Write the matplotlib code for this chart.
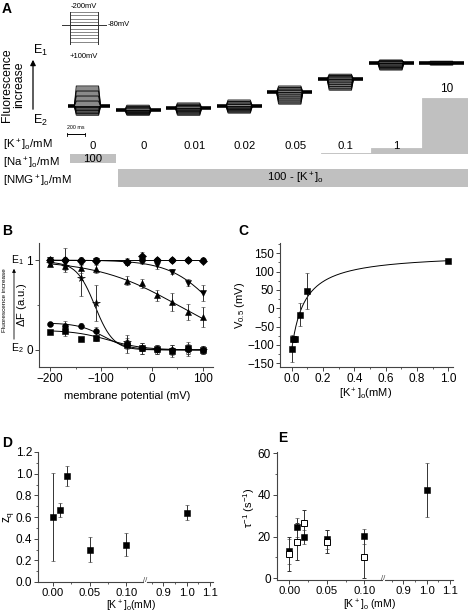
import numpy as np
import matplotlib
matplotlib.use('Agg')
import matplotlib.pyplot as plt
from matplotlib.ticker import MultipleLocator, FixedLocator

plt.rcParams['font.family'] = ['Liberation Sans', 'DejaVu Sans']
plt.rcParams['mathtext.fontset'] = 'custom'
plt.rcParams['mathtext.rm'] = 'Liberation Sans'
plt.rcParams['mathtext.it'] = 'Liberation Sans:italic'
plt.rcParams['mathtext.default'] = 'regular'

# ---------------- data ----------------
# Panel A
K_labels = ['0', '0', '0.01', '0.02', '0.05', '0.1', '1', '10']
K_values = [0, 0, 0.01, 0.02, 0.05, 0.1, 1, 10]
Na_values = [100, 0, 0, 0, 0, 0, 0, 0]
step_mV = [-200, -170, -140, -110, -80, -50, -20, 10, 40, 70, 100]
hold_mV = -80
# normalized fluorescence of the traces (0 = E2, 1 = E1)
trace_base = [0.177, 0.113, 0.145, 0.177, 0.40, 0.61, 0.876, 0.876]
trace_hi = [0.50, 0.19, 0.226, 0.274, 0.50, 0.69, 0.92, 0.90]   # at -200 mV
trace_lo = [0.03, 0.03, 0.03, 0.065, 0.21, 0.435, 0.76, 0.84]   # at +100 mV

# Panel B
V_B = [-200, -170, -140, -110, -50, -20, 10, 40, 70, 100]
B_diam = [1.0, 1.0, 0.99, 0.99, 0.98, 1.04, 1.0, 1.0, 1.0, 0.99]
B_diam_err = [0.02, 0.03, 0.03, 0.02, 0.04, 0.05, 0.02, 0.02, 0.02, 0.02]
B_circ_top = [1.0, 1.0, 1.0, 1.0, 0.98, 1.0, 1.0, 1.0, 1.0, 1.0]
B_circ_top_err = [0.03, 0.13, 0.03, 0.03, 0.03, 0.03, 0.02, 0.02, 0.02, 0.02]
B_down = [1.0, 0.98, 0.98, 0.99, 0.97, 0.985, 0.94, 0.87, 0.75, 0.63]
B_down_err = [0.02, 0.03, 0.03, 0.03, 0.03, 0.03, 0.04, 0.03, 0.04, 0.09]
B_up = [0.96, 0.93, 0.91, 0.90, 0.77, 0.74, 0.61, 0.535, 0.42, 0.37]
B_up_err = [0.02, 0.03, 0.05, 0.04, 0.05, 0.05, 0.06, 0.10, 0.09, 0.11]
B_star = [0.97, 0.93, 0.80, 0.52, 0.09, 0.02, 0.0, 0.0, 0.0, 0.0]
B_star_err = [0.02, 0.04, 0.20, 0.20, 0.08, 0.06, 0.05, 0.06, 0.07, 0.04]
B_circ_low = [0.29, 0.27, 0.27, 0.21, 0.07, 0.02, 0.01, 0.0, 0.01, 0.0]
B_circ_low_err = [0.02, 0.05, 0.03, 0.04, 0.04, 0.06, 0.05, 0.05, 0.05, 0.04]
B_sq_low = [0.20, 0.21, 0.12, 0.13, 0.05, 0.02, 0.01, -0.01, 0.02, 0.0]
B_sq_low_err = [0.02, 0.05, 0.01, 0.03, 0.08, 0.06, 0.05, 0.07, 0.07, 0.04]
# Boltzmann fits: (amplitude, V0.5, slope)
fit_star = (0.98, -112, 18)
fit_up = (1.0, 50, 80)
fit_down = (1.0, 123, 44)
fit_circ_low = (0.30, -95, 25)
fit_sq_low = (0.22, -85, 35)

# Panel C
K_C = [0.0, 0.01, 0.02, 0.05, 0.1, 1.0]
V05 = [-110, -83, -83, -17, 46, 128]
V05_err = [36, 8, 8, 31, 49, 3]
fit_C = (-112, 262, 0.0835)   # Vmin, amplitude, Kd

# Panel D
K_D = [0.0, 0.01, 0.02, 0.05, 0.1, 1.0]
zq = [0.60, 0.665, 0.98, 0.30, 0.345, 0.64]
zq_err = [0.41, 0.065, 0.09, 0.115, 0.105, 0.07]

# Panel E
K_E = [0.0, 0.01, 0.02, 0.05, 0.1, 1.0]
tau_f = [13.1, 24.5, 19.8, 18.7, 20.2, 42.5]
tau_f_err = [6.0, 4.5, 3.5, 4.5, 3.5, 13.0]
K_E_open = [0.0, 0.01, 0.02, 0.05, 0.1]
tau_o = [11.7, 17.6, 26.5, 17.6, 10.0]
tau_o_err = [8.0, 9.0, 6.5, 5.5, 10.0]

# ---------------- figure ----------------
W, H = 468, 613
fig = plt.figure(figsize=(W / 100, H / 100), dpi=100)
GRAY = '#c0c0c0'
AX = '#444444'
TICK_FS = 8.5
LAB_FS = 8.0


def rect(x0, y0, x1, y1):
    return [x0 / W, 1 - y1 / H, (x1 - x0) / W, (y1 - y0) / H]


ov = fig.add_axes([0, 0, 1, 1])
ov.set_xlim(0, W)
ov.set_ylim(H, 0)
ov.axis('off')

# panel letters
for lab, (x, y) in {'A': (2, 9), 'B': (2, 231), 'C': (238, 231), 'D': (2, 443), 'E': (278, 438)}.items():
    ov.text(x, y, lab, fontsize=10, fontweight='bold', ha='left', va='center')

# ---- Panel A ----
# protocol inset
axP = fig.add_axes(rect(62, 12, 107, 45))
axP.set_xlim(0, 45)
axP.set_ylim(100, -200)
axP.axis('off')
for v in step_mV:
    axP.plot([8, 36], [v, v], color='#555555', lw=0.5)
axP.plot([8, 8], [min(step_mV), max(step_mV)], color='#333333', lw=0.7)
axP.plot([36, 36], [min(step_mV), max(step_mV)], color='#333333', lw=0.7)
axP.plot([0, 45], [hold_mV, hold_mV], color='#333333', lw=0.7)
ov.text(84, 6, '-200mV', fontsize=5.5, ha='center', va='center')
ov.text(108, 25, '-80mV', fontsize=5.5, ha='left', va='center')
ov.text(84, 56, '+100mV', fontsize=5.5, ha='center', va='center')

# fluorescence arrow
ov.text(13, 85, 'Fluorescence\nincrease', rotation=90, fontsize=8.8, ha='center', va='center',
        linespacing=1.0)
ov.annotate('', xy=(33, 57), xytext=(33, 112),
            arrowprops=dict(arrowstyle='-|>', color='k', lw=0.9, mutation_scale=8))
ov.text(33, 50, 'E$_1$', fontsize=9, ha='left', va='center')
ov.text(33, 120, 'E$_2$', fontsize=9, ha='left', va='center')

# traces
axT = fig.add_axes(rect(67.7, 50, 472.3, 125))
axT.set_xlim(-0.5, 7.5)
axT.set_ylim(-0.129, 1.081)
axT.axis('off')
for i in range(8):
    b, hi, lo = trace_base[i], trace_hi[i], trace_lo[i]
    px = i + np.array([-0.37, -0.33, 0.11, 0.15])
    axT.fill_between(px, [b, max(hi, b), max(hi, b), b], [b, min(lo, b), min(lo, b), b],
                     color='#8a8a8a', lw=0)
    for v in step_mV:
        if v <= hold_mV:
            lvl = b + (hi - b) * (hold_mV - v) / (hold_mV - min(step_mV))
        else:
            lvl = b + (lo - b) * (v - hold_mV) / (max(step_mV) - hold_mV)
        axT.plot(px, [b, lvl, lvl, b], color='k', lw=0.7, alpha=0.9)
    axT.plot(i + np.array([-0.55, -0.35]), [b, b], color='k', lw=2.6, solid_capstyle='butt')
    axT.plot(i + np.array([0.13, 0.34]), [b, b], color='k', lw=2.6, solid_capstyle='butt')

# scale bar
ov.plot([67, 85], [134, 134], color='k', lw=0.7)
ov.plot([67, 67], [132.5, 135.5], color='k', lw=0.6)
ov.plot([85, 85], [132.5, 135.5], color='k', lw=0.6)
ov.text(76, 130, '200 ms', fontsize=3.8, ha='center', va='bottom')

# K bars
axK = fig.add_axes(rect(67.7, 98, 472.3, 154))
axK.set_xlim(-0.5, 7.5)
axK.set_ylim(0, 10)
axK.axis('off')
ecs = [GRAY if k > 0 else 'none' for k in K_values]
axK.bar(range(8), K_values, width=1.0, color=GRAY, edgecolor=ecs, linewidth=0.6)
for i, (lab, k) in enumerate(zip(K_labels, K_values)):
    if k >= 10:
        axK.text(i, k + 0.6, lab, fontsize=8.5, ha='center', va='bottom', clip_on=False)
    else:
        axK.text(i, 1.5, lab, fontsize=8.2, ha='center', va='center', clip_on=False)

# Na / NMG rows
axR = fig.add_axes(rect(67.7, 154, 472.3, 190))
axR.set_xlim(-0.5, 7.5)
axR.set_ylim(190, 154)
axR.axis('off')
for i, na in enumerate(Na_values):
    if na > 0:
        axR.bar(i, 9, bottom=154, width=0.92, align='center', color=GRAY, lw=0)
        axR.text(i, 158.5, str(na), fontsize=8.2, ha='center', va='center')
nmg_cols = [i for i, na in enumerate(Na_values) if na == 0]
axR.bar(nmg_cols, 18, bottom=169, width=1.0, color=GRAY, lw=0)
axR.text(np.mean(nmg_cols), 178.5, '100 - [K$^+$]$_o$', fontsize=8.2, ha='center', va='center')

ov.text(3, 145, '[K$^+$]$_o$/mM', fontsize=8.2, ha='left', va='center')
ov.text(3, 163, '[Na$^+$]$_o$/mM', fontsize=8.2, ha='left', va='center')
ov.text(3, 181, '[NMG$^+$]$_o$/mM', fontsize=8.2, ha='left', va='center')


def style(ax, left=True):
    for s in ['top', 'right']:
        ax.spines[s].set_visible(False)
    for s in ['left', 'bottom']:
        ax.spines[s].set_linewidth(0.8)
        ax.spines[s].set_color(AX)
    ax.tick_params(which='both', direction='out', color=AX, labelsize=TICK_FS, pad=1.2)
    ax.tick_params(which='major', length=3, width=0.7)
    ax.tick_params(which='minor', length=1.7, width=0.6)
    ax.patch.set_alpha(0)
    if not left:
        ax.spines['left'].set_visible(False)
        ax.tick_params(axis='y', which='both', left=False, labelleft=False)


ekw = dict(ecolor='#333333', elinewidth=0.7, capsize=1.4, capthick=0.6, linestyle='none',
           markeredgecolor='k', markerfacecolor='k', markeredgewidth=0.4)

# ---- Panel B ----
axB = fig.add_axes(rect(39, 243, 213, 367))
style(axB)
axB.set_xlim(-222, 120)
axB.set_ylim(-0.19, 1.19)
axB.set_xticks([-200, -100, 0, 100])
axB.xaxis.set_minor_locator(FixedLocator([-150, -50, 50]))
axB.set_yticks([0, 1])
axB.set_yticklabels(['0', '1'])
axB.yaxis.set_minor_locator(FixedLocator([0.5]))
vv = np.linspace(-200, 100, 200)


def boltz(v, p):
    a, v5, k = p
    return a / (1 + np.exp((v - v5) / k))


lkw = dict(color='k', lw=0.7)
axB.plot([-200, 100], [1.0, 1.0], **lkw)
for p in [fit_star, fit_up, fit_down, fit_circ_low, fit_sq_low]:
    axB.plot(vv, boltz(vv, p), **lkw)
series = [(B_circ_top, B_circ_top_err, 'o', 4.2), (B_diam, B_diam_err, 'D', 3.6),
          (B_down, B_down_err, 'v', 4.6), (B_up, B_up_err, '^', 4.6),
          (B_star, B_star_err, '*', 5.5), (B_circ_low, B_circ_low_err, 'o', 4.2),
          (B_sq_low, B_sq_low_err, 's', 3.8)]
for y, e, m, ms in series:
    axB.errorbar(V_B, y, yerr=e, marker=m, markersize=ms, **ekw)
ov.text(127, 396, 'membrane potential (mV)', fontsize=LAB_FS, ha='center', va='center')
ov.text(22, 305, r'$\Delta$F (a.u.)', fontsize=LAB_FS, rotation=90, ha='center', va='center')
ov.text(5, 300, 'Fluorescence increase', fontsize=4.6, rotation=90, ha='center', va='center')
ov.annotate('', xy=(14, 266), xytext=(14, 342),
            arrowprops=dict(arrowstyle='-|>', color='k', lw=0.6, mutation_scale=5))
ov.text(11, 260, 'E$_1$', fontsize=7.5, ha='left', va='center')
ov.text(11, 348, 'E$_2$', fontsize=7.5, ha='left', va='center')

# ---- Panel C ----
axC = fig.add_axes(rect(280, 243, 453, 367))
style(axC)
axC.set_xlim(-0.075, 1.03)
axC.set_ylim(-160, 178)
axC.xaxis.set_major_locator(MultipleLocator(0.2))
axC.xaxis.set_minor_locator(MultipleLocator(0.1))
axC.xaxis.set_major_formatter(matplotlib.ticker.FormatStrFormatter('%.1f'))
axC.set_yticks([-150, -100, -50, 0, 50, 100, 150])
axC.yaxis.set_minor_locator(MultipleLocator(25))
kk = np.linspace(0, 1.0, 300)
vmin, amp, kd = fit_C
axC.plot(kk, vmin + amp * kk / (kk + kd), **lkw)
axC.errorbar(K_C, V05, yerr=V05_err, marker='s', markersize=4.2, **ekw)
ov.text(240, 305, 'V$_{0.5}$ (mV)', fontsize=LAB_FS, rotation=90, ha='center', va='center')
ov.text(366, 394, '[K$^+$]$_o$(mM)', fontsize=LAB_FS, ha='center', va='center')


# ---- broken-axis panels D, E ----
def broken(x0, xb0, xb1, x1, y0, y1, xl1, xl2, ylim):
    a1 = fig.add_axes(rect(x0, y0, xb0, y1))
    a2 = fig.add_axes(rect(xb1, y0, x1, y1))
    style(a1)
    style(a2, left=False)
    for a in (a1, a2):
        a.set_ylim(*ylim)
        a.tick_params(axis='x', labelsize=8.2, pad=1.0)
    a1.set_xlim(*xl1)
    a2.set_xlim(*xl2)
    a1.set_xticks([0.0, 0.05, 0.10])
    a1.set_xticklabels(['0.00', '0.05', '0.10'])
    a1.xaxis.set_minor_locator(FixedLocator([0.025, 0.075]))
    a2.set_xticks([0.9, 1.0, 1.1])
    a2.set_xticklabels(['0.9', '1.0', '1.1'])
    a2.xaxis.set_minor_locator(FixedLocator([0.85, 0.95, 1.05]))
    ov.text((xb0 + xb1) / 2, y1 - 2, '//', fontsize=5.5, ha='center', va='center', color=AX)
    return a1, a2


d1, d2 = broken(38, 143, 147, 213, 452, 582, (-0.0199, 0.1226), (0.830, 1.1124), (0, 1.2))
d1.set_yticks(np.arange(0, 1.21, 0.2))
d1.set_yticklabels(['%.1f' % t for t in np.arange(0, 1.21, 0.2)])
d1.yaxis.set_minor_locator(MultipleLocator(0.1))
for a in (d1, d2):
    a.errorbar(K_D, zq, yerr=zq_err, marker='s', markersize=4.6, **ekw)
ov.text(9, 517, 'z$_q$', fontsize=8.5, rotation=90, ha='center', va='center')
ov.text(131, 606, '[K$^+$]$_o$(mM)', fontsize=7.6, ha='center', va='center')

e1, e2 = broken(276.7, 381.5, 385, 453.3, 452, 580, (-0.0168, 0.1229), (0.8218, 1.1137),
                (-0.8, 60.6))
e1.set_yticks([0, 20, 40, 60])
e1.yaxis.set_minor_locator(MultipleLocator(10))
for a in (e1, e2):
    a.errorbar(K_E, tau_f, yerr=tau_f_err, marker='s', markersize=4.6, **ekw)
    okw = dict(ekw)
    okw['markerfacecolor'] = 'white'
    okw['markeredgewidth'] = 0.7
    a.errorbar(K_E_open, tau_o, yerr=tau_o_err, marker='s', markersize=4.6, **okw)
ov.text(249, 508, r'$\tau^{-1}$ (s$^{-1}$)', fontsize=8, rotation=90, ha='center', va='center')
ov.text(370, 605, '[K$^+$]$_o$ (mM)', fontsize=7.6, ha='center', va='center')

fig.savefig('out.png', dpi=100)
